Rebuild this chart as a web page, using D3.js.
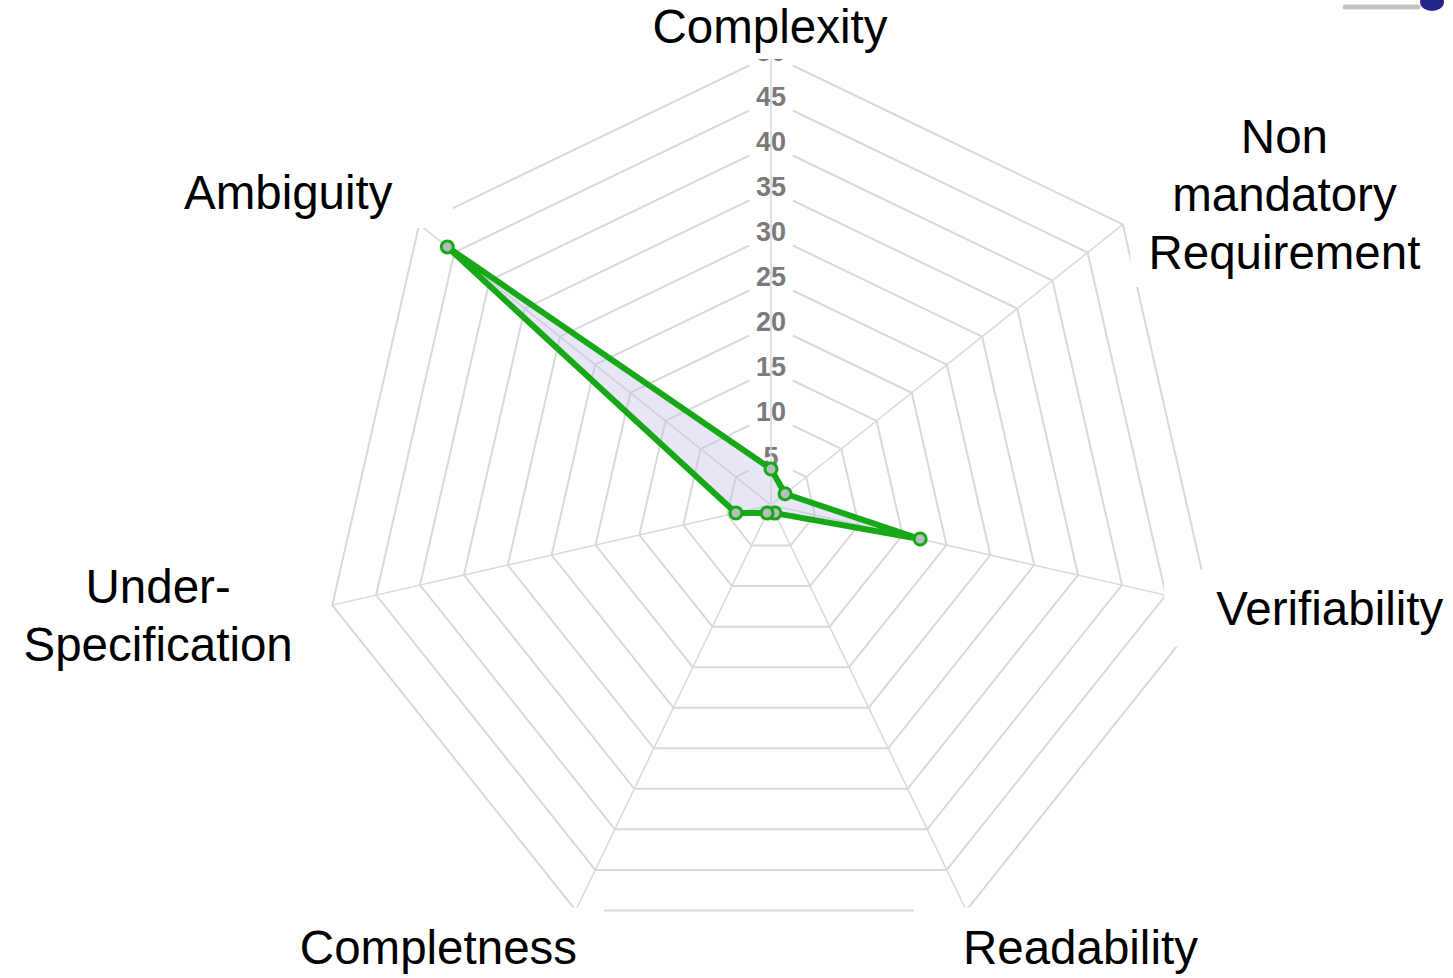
<!DOCTYPE html>
<html>
<head>
<meta charset="utf-8">
<script src="https://cdn.jsdelivr.net/npm/d3@7"></script>
<style>
  html, body { margin: 0; padding: 0; background: #fff; }
  svg { display: block; font-family: "Liberation Sans", Arial, sans-serif; }
</style>
</head>
<body>
<div id="chart"></div>
<script>
// axis labels (multi-line labels split in lines)
const axes = [
  ["Complexity"],
  ["Non", "mandatory", "Requirement"],
  ["Verifiability"],
  ["Readability"],
  ["Completness"],
  ["Under-", "Specification"],
  ["Ambiguity"],
];
const values = [4, 2, 17, 1, 1, 4, 46];
const ticks = [5, 10, 15, 20, 25, 30, 35, 40, 45, 50];
const maxValue = 50;

const width = 1453;
const height = 978;
const cx = 771;
const cy = 505;
const radius = 450;

const svg = d3
  .select("#chart")
  .append("svg")
  .attr("width", width)
  .attr("height", height);

const g = svg.append("g").attr("transform", `translate(${cx},${cy})`);

const r = d3.scaleLinear().domain([0, maxValue]).range([0, radius]);
const angle = d3.scaleLinear().domain([0, axes.length]).range([0, 2 * Math.PI]);
const pt = (i, v) => [r(v) * Math.sin(angle(i)), -r(v) * Math.cos(angle(i))];

const gridColor = "#d8d8d8";

// Rings
const ring = (t) =>
  d3
    .lineRadial()
    .angle((d, i) => angle(i))
    .radius(r(t))
    .curve(d3.curveLinearClosed)(axes);

g.append("g")
  .selectAll("path")
  .data(ticks)
  .join("path")
  .attr("d", (t) => ring(t))
  .attr("fill", "none")
  .attr("stroke", gridColor)
  .attr("stroke-width", 2);

// Tick backdrops
const tickG = g.append("g");
tickG
  .selectAll("rect")
  .data(ticks)
  .join("rect")
  .attr("x", -22)
  .attr("y", (t) => -r(t) - 17)
  .attr("width", 44)
  .attr("height", 28)
  .attr("fill", "#fff");

// Angle lines
g.append("g")
  .selectAll("line")
  .data(axes)
  .join("line")
  .attr("x1", 0)
  .attr("y1", 0)
  .attr("x2", (d, i) => pt(i, maxValue)[0])
  .attr("y2", (d, i) => pt(i, maxValue)[1])
  .attr("stroke", gridColor)
  .attr("stroke-width", 1.5);

// Tick labels
tickG
  .selectAll("text")
  .data(ticks)
  .join("text")
  .attr("x", 0)
  .attr("y", (t) => -r(t) - 3)
  .attr("text-anchor", "middle")
  .attr("dominant-baseline", "central")
  .attr("font-size", 27)
  .attr("font-weight", "bold")
  .attr("fill", "#7a7a7a")
  .text((t) => t);

// Point labels (with white boxes behind them, like the pasted labels)
const labelRadius = r(maxValue) + 20;
const lineHeight = 58;
const labelNudge = [[-1, 8], [10, -18], [-13, -2], [-12, 2], [10, 2], [-20, 5], [-11, -20]];
const boxPad = [[20, 6], [18, 8], [52, 12], [49, 14], [27, 14], [35, 10], [60, 9]];
const labelG = g.append("g");

axes.forEach((lines, i) => {
  const [px, py] = [labelRadius * Math.sin(angle(i)), -labelRadius * Math.cos(angle(i))];
  const s = Math.sin(angle(i));
  const c = -Math.cos(angle(i));
  const item = labelG.append("g");
  const text = item
    .append("text")
    .attr("font-size", 47.5)
    .attr("fill", "#000")
    .attr("text-anchor", "middle");
  const spans = text
    .selectAll("tspan")
    .data(lines)
    .join("tspan")
    .text((d) => d);
  const w = d3.max(spans.nodes(), (n) => n.getComputedTextLength());

  let x = px;
  if (Math.abs(s) > 0.1) x = s > 0 ? px + w / 2 : px - w / 2;
  x += labelNudge[i][0];

  const n = lines.length;
  let y0;
  if (c < -0.95) y0 = py - (n - 1) * lineHeight;
  else if (c > 0.8) y0 = py + 34;
  else y0 = py - ((n - 1) * lineHeight) / 2 + 17;
  y0 += labelNudge[i][1];

  spans.attr("x", x).attr("y", (d, k) => y0 + k * lineHeight);

  const bb = text.node().getBBox();
  const [padX, padY] = boxPad[i];
  item
    .insert("rect", "text")
    .attr("x", bb.x - padX)
    .attr("y", bb.y - padY)
    .attr("width", bb.width + 2 * padX)
    .attr("height", bb.height + 2 * padY)
    .attr("fill", "#fff");
});

// Data area
const green = "#16a816";
const area = d3
  .lineRadial()
  .angle((d, i) => angle(i))
  .radius((d) => r(d))
  .curve(d3.curveLinearClosed);

g.append("path")
  .datum(values)
  .attr("d", area)
  .attr("fill", "rgba(190,190,225,0.38)")
  .attr("stroke", green)
  .attr("stroke-width", 6)
  .attr("stroke-linejoin", "round");

g.append("g")
  .selectAll("circle")
  .data(values)
  .join("circle")
  .attr("cx", (d, i) => pt(i, d)[0])
  .attr("cy", (d, i) => pt(i, d)[1])
  .attr("r", 6)
  .attr("fill", "#b5bdbd")
  .attr("stroke", green)
  .attr("stroke-width", 3);

// Corner logo fragment
svg.append("line")
  .attr("x1", 1345).attr("y1", 7).attr("x2", 1418).attr("y2", 7)
  .attr("stroke", "#c4c4c4").attr("stroke-width", 5).attr("stroke-linecap", "round");
svg.append("ellipse")
  .attr("cx", 1432).attr("cy", 2).attr("rx", 12).attr("ry", 9)
  .attr("fill", "#26268a");
</script>
</body>
</html>
